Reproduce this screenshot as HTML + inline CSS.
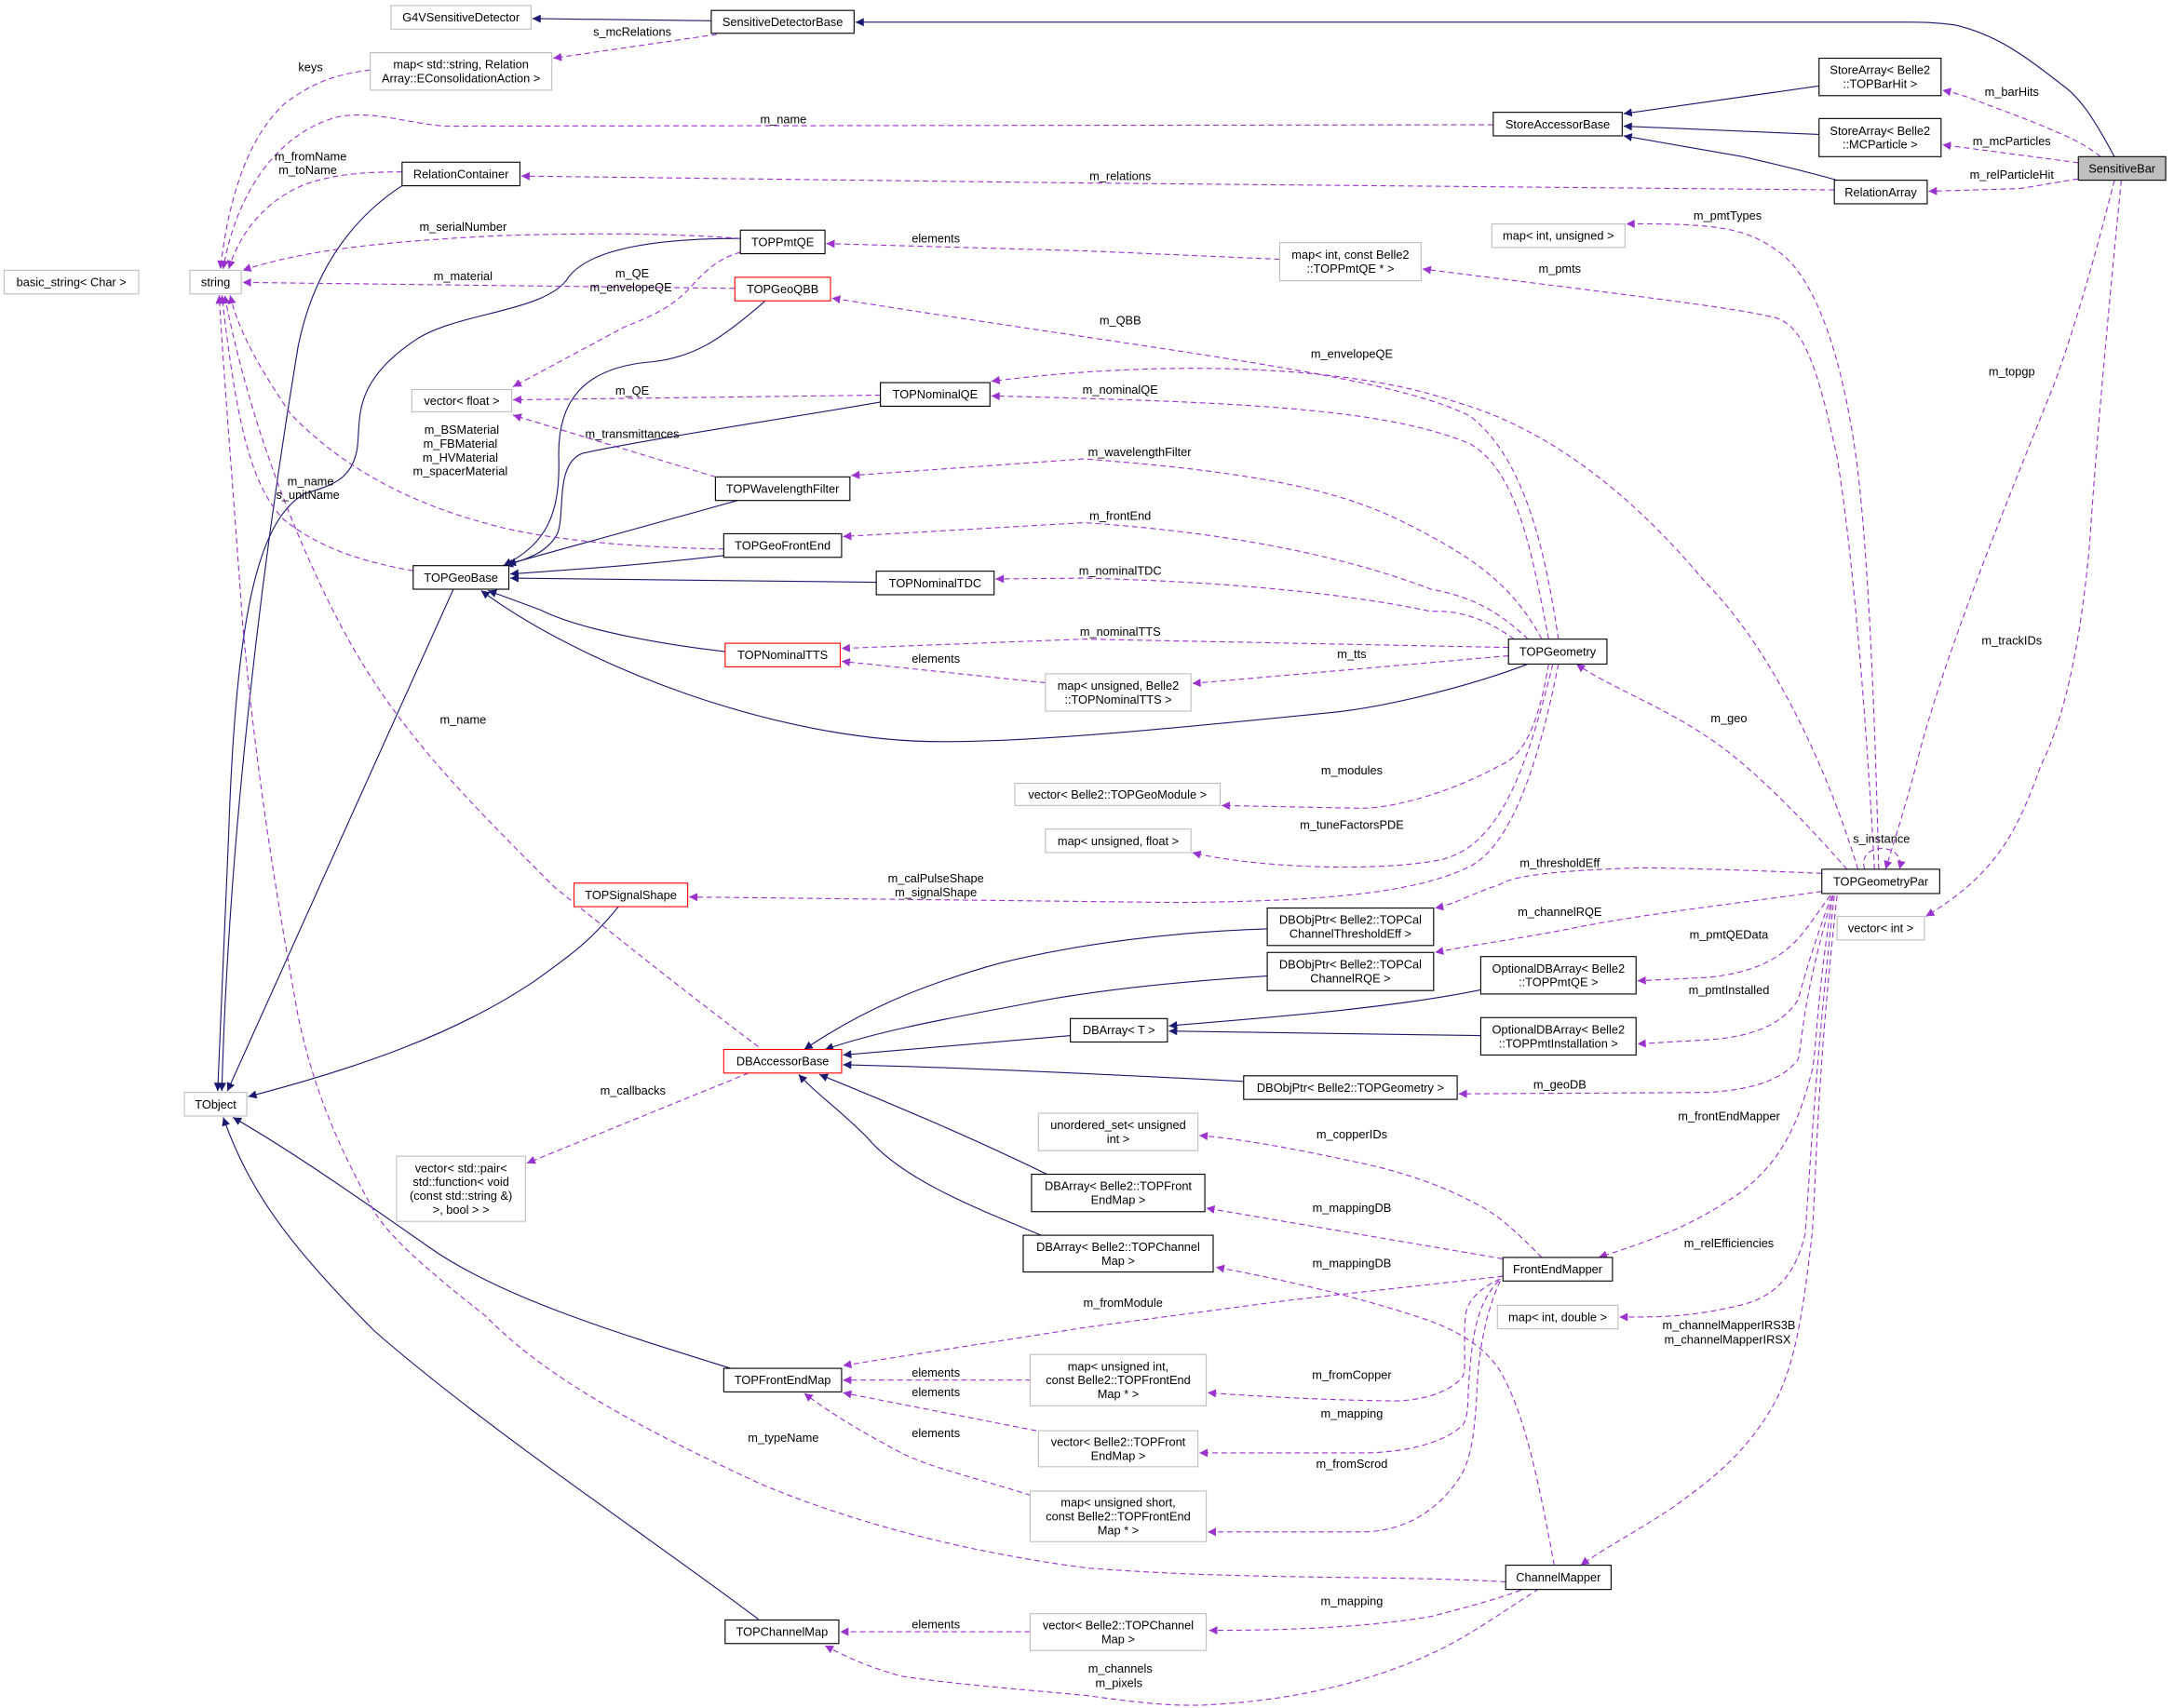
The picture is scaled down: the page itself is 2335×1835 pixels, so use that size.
<!DOCTYPE html>
<html><head><meta charset="utf-8"><style>
html,body{margin:0;padding:0;background:#fff;}
svg{display:block;}
text{font-family:"Liberation Sans",Arial,sans-serif;font-size:8.6px;fill:#000;}
.n{text-anchor:middle;}
.b{fill:#fff;stroke:#000;stroke-width:0.75;}
.g{fill:#fff;stroke:#bfbfbf;stroke-width:0.75;}
.r{fill:#fff;stroke:#ff0000;stroke-width:0.75;}
.s{fill:none;stroke:#191970;stroke-width:0.75;marker-end:url(#an);}
.d{fill:none;stroke:#9a32cd;stroke-width:0.75;stroke-dasharray:4,2.6;marker-end:url(#ap);}
</style></head><body>
<svg width="2335" height="1835" viewBox="0 0 1568 1232" preserveAspectRatio="none" xmlns="http://www.w3.org/2000/svg">
<defs>
<marker id="an" viewBox="0 0 10 10" refX="10" refY="5" markerWidth="8" markerHeight="6" markerUnits="userSpaceOnUse" orient="auto"><path d="M0,0 L10,5 L0,10 z" fill="#191970"/></marker>
<marker id="ap" viewBox="0 0 10 10" refX="10" refY="5" markerWidth="8" markerHeight="6" markerUnits="userSpaceOnUse" orient="auto"><path d="M0,0 L10,5 L0,10 z" fill="#9a32cd"/></marker>
</defs>

<!-- solid inheritance edges -->
<path class="s" d="M513,15 L384,13.4"/>
<path class="s" d="M1525,113 C1510,85 1500,70 1487,61 C1460,40 1440,25 1410,18 C1395,16 1385,16 1377,16 L617,16"/>
<path class="s" d="M1312,62 L1171,82"/>
<path class="s" d="M1312,97 L1171,91"/>
<path class="s" d="M1325,130 C1300,123 1270,116 1257,113 L1171,98"/>
<path class="s" d="M290,134 C250,160 225,200 215,250 C190,400 165,600 160,787"/>
<path class="s" d="M534,172 C470,172 425,180 410,200 C395,225 330,225 300,245 C255,275 260,300 258,320 C256,345 240,350 220,356 C185,375 170,450 165,600 L157,787"/>
<path class="s" d="M552,217 C520,245 500,258 470,261 C420,265 402,290 403,330 C404,370 395,392 363,408"/>
<path class="s" d="M635,290 C560,303 460,318 420,327 C400,335 408,370 402,385 C395,398 382,403 364,408"/>
<path class="s" d="M532,361 L366,407"/>
<path class="s" d="M522,400.7 C460,408 410,411 368,414"/>
<path class="s" d="M632,420 L368,417"/>
<path class="s" d="M523,470 C480,465 420,455 390,440 L352,426"/>
<path class="s" d="M1102,479 C1060,495 1000,510 960,514 C850,525 750,535 680,535 C560,535 420,480 347,426"/>
<path class="s" d="M327,425 L164,787"/>
<path class="s" d="M446,654 C425,680 410,690 385,708 C330,745 260,770 179,791"/>
<path class="s" d="M527,987 C440,960 360,935 310,900 C260,865 210,830 168,806"/>
<path class="s" d="M547,1168 C470,1110 350,1030 270,960 C210,900 180,860 161,806"/>
<path class="s" d="M914,670 C850,672 780,680 720,695 C660,712 620,730 580,757"/>
<path class="s" d="M914,704 C850,708 790,714 740,724 C670,737 630,745 595,757"/>
<path class="s" d="M772,747 L608,761"/>
<path class="s" d="M897,780 C820,776 700,770 608,768"/>
<path class="s" d="M1068,714 C1000,728 900,735 843,740"/>
<path class="s" d="M1068,747 L843,743.7"/>
<path class="s" d="M755,847 C700,820 640,795 591,775"/>
<path class="s" d="M751,891 C700,870 650,850 625,820 C605,800 590,790 576,775"/>

<!-- dashed usage edges -->
<path class="d" d="M517,24.8 L399,42"/>
<path class="d" d="M267,50.4 C240,54 225,60 205,75 C180,98 165,140 159,194"/>
<path class="d" d="M1077,90 L320,91 C290,88 270,80 245,84 C200,95 170,140 161,194"/>
<path class="d" d="M1323,137 L782,132 L376,127"/>
<path class="d" d="M290,124 C260,124 240,126 220,133 C190,145 172,170 165,194"/>
<path class="d" d="M534,172 C480,168 420,168 360,170 C280,174 220,180 175,195"/>
<path class="d" d="M530,208 L175,203.7"/>
<path class="d" d="M534,182 C520,186 512,192 500,205 C485,222 470,228 450,236 L370,279"/>
<path class="d" d="M635,285 L370,288.4"/>
<path class="d" d="M516,344 L370,299.4"/>
<path class="d" d="M522,396 C460,395 400,390 360,380 C300,365 250,340 210,299 C190,270 172,240 166,213"/>
<path class="d" d="M298,411.7 C260,405 230,395 205,375 C180,350 170,300 160,213"/>
<path class="d" d="M547,755 C500,720 450,680 400,640 C330,570 280,520 240,440 C200,360 175,280 162,213"/>
<path class="d" d="M1086,1141 C1000,1136 900,1140 784,1131 C700,1120 620,1100 550,1071 C450,1025 390,990 350,949 C300,910 280,890 270,874 C240,820 225,780 215,733 C200,650 185,560 175,450 C168,350 162,280 158,213"/>
<path class="d" d="M540,774 L380,839"/>
<path class="d" d="M1355,627 C1352,500 1347,400 1340,340 C1330,260 1310,200 1282,181 C1260,165 1240,161 1173,161.5"/>
<path class="d" d="M1352,627 C1345,500 1335,390 1325,330 C1310,260 1300,235 1280,229 C1250,222 1200,216 1026,194"/>
<path class="d" d="M923,187 L784,181 L596,175.7"/>
<path class="d" d="M1124,461 C1115,400 1100,330 1060,300 C1000,270 850,255 600,215"/>
<path class="d" d="M1340,627 C1320,560 1280,470 1230,420 C1180,360 1120,310 1050,290 C980,265 850,258 715,275"/>
<path class="d" d="M1117,461 C1105,400 1095,340 1060,320 C1000,295 900,290 715,285.6"/>
<path class="d" d="M1112,461 C1090,420 1060,400 1007,374 C960,352 900,340 782,331 L614,343"/>
<path class="d" d="M1102,461 C1080,440 1060,430 1032,425 C980,405 900,385 782,377 L608,387"/>
<path class="d" d="M1092,461 C1070,445 1050,440 1032,441 C980,430 900,420 782,417 L718,417.6"/>
<path class="d" d="M1088,467 L782,461 L607,467.7"/>
<path class="d" d="M1088,473 L860,493"/>
<path class="d" d="M754,492.5 L607,477"/>
<path class="d" d="M1117,479 C1110,520 1100,545 1082,552 C1040,575 1000,583 982,583 L881,581"/>
<path class="d" d="M1120,479 C1100,560 1080,610 1040,620 C990,630 900,625 860,615"/>
<path class="d" d="M1124,479 C1110,550 1090,610 1060,625 C1020,645 950,650 850,651 L497,647"/>
<path class="d" d="M1332,627 C1300,590 1260,550 1232,532 C1200,510 1160,495 1137,479"/>
<path class="d" d="M1345,627 C1338,608 1375,606 1370,627"/>
<path class="d" d="M1525,130 C1510,190 1495,240 1482,276 C1440,380 1400,480 1382,552 C1372,590 1365,610 1360,627"/>
<path class="d" d="M1530,130 C1520,230 1512,320 1507,394 C1500,470 1488,520 1472,552 C1455,600 1440,630 1389,661"/>
<path class="d" d="M1515,113 C1505,105 1495,100 1482,94.6 C1460,85 1445,80 1432,75 C1420,70 1410,67 1401,65"/>
<path class="d" d="M1499,117.4 L1401,104.4"/>
<path class="d" d="M1499,129 C1480,132 1470,134 1457,136 L1391,138"/>
<path class="d" d="M1314,630 C1270,628 1210,626 1182,626 C1120,628 1090,632 1082,638 C1060,645 1050,652 1035,655"/>
<path class="d" d="M1314,643 C1250,652 1180,660 1132,670 C1090,678 1060,682 1035,687"/>
<path class="d" d="M1320,646 C1310,660 1303,670 1297,677 C1280,695 1260,702 1232,705 L1181,707.5"/>
<path class="d" d="M1321,646 C1305,690 1300,710 1297,721 C1285,740 1262,748 1232,750 L1181,753"/>
<path class="d" d="M1322,646 C1300,720 1300,750 1297,764 C1285,780 1262,786 1232,788 L1052,789"/>
<path class="d" d="M1322,646 C1310,720 1310,760 1307,772 C1295,820 1280,840 1257,859 C1220,885 1190,895 1153,907"/>
<path class="d" d="M1323,646 C1310,760 1305,850 1302,890 C1295,920 1280,935 1257,941 C1220,950 1200,950 1168,950"/>
<path class="d" d="M1325,646 C1310,780 1310,850 1307,890 C1300,950 1295,980 1282,1008 C1260,1050 1230,1070 1207,1087 C1180,1105 1160,1115 1140,1129"/>
<path class="d" d="M1112,907 C1095,890 1080,875 1062,867 C1040,855 1010,845 982,839 C940,830 900,822 865,819"/>
<path class="d" d="M1084,908 L870,871.4"/>
<path class="d" d="M1121,1129 C1110,1070 1100,1020 1082,989 C1070,970 1050,960 1032,953 C980,935 920,922 877,914"/>
<path class="d" d="M1084,920.6 L932,937.6 L784,957.3 L608,985"/>
<path class="d" d="M1082,922.6 C1065,930 1058,940 1057,949 C1055,970 1058,985 1055,993 C1045,1005 1025,1010 1007,1010.5 C960,1010 920,1008 871,1004.6"/>
<path class="d" d="M1081,923.8 C1065,940 1062,965 1060,989 C1058,1010 1060,1020 1055,1028 C1040,1042 1010,1048 982,1048 L865,1048"/>
<path class="d" d="M1082,924 C1070,950 1066,980 1065,1008 C1063,1040 1060,1055 1052,1067 C1035,1092 1010,1105 982,1105 L871,1105"/>
<path class="d" d="M743.5,995.5 L608,995.5"/>
<path class="d" d="M747.5,1032 L608,1004.6"/>
<path class="d" d="M743.5,1078.6 C700,1065 670,1058 650,1048 C620,1032 600,1020 580,1005"/>
<path class="d" d="M1097,1147 C1075,1155 1055,1160 1032,1166 C990,1173 940,1176 872,1176"/>
<path class="d" d="M743,1177 L606,1177"/>
<path class="d" d="M1110,1146 C1080,1165 1060,1180 1032,1193 C990,1212 940,1225 882,1229 C850,1232 820,1228 784,1223 C730,1218 690,1215 650,1209 C625,1202 610,1195 595,1187"/>

<!-- nodes -->
<rect class="g" x="282" y="4" width="101" height="17"/><text class="n" x="332.5" y="15.5">G4VSensitiveDetector</text>
<rect class="b" x="513" y="7.5" width="103" height="16.5"/><text class="n" x="564.5" y="18.8">SensitiveDetectorBase</text>
<rect class="g" x="267" y="38" width="131" height="27"/><text class="n" x="332.5" y="49.5">map&lt; std::string, Relation</text><text class="n" x="332.5" y="59.5">Array::EConsolidationAction &gt;</text>
<rect class="g" x="137" y="195" width="37" height="17"/><text class="n" x="155.5" y="206.5">string</text>
<rect class="g" x="3" y="195" width="97" height="17"/><text class="n" x="51.5" y="206.5">basic_string&lt; Char &gt;</text>
<rect class="b" x="290" y="117" width="85" height="17"/><text class="n" x="332.5" y="128.5">RelationContainer</text>
<rect class="b" x="534" y="166" width="61" height="17"/><text class="n" x="564.5" y="177.5">TOPPmtQE</text>
<rect class="r" x="530" y="200" width="69" height="17"/><text class="n" x="564.5" y="211.5">TOPGeoQBB</text>
<rect class="g" x="297" y="281" width="72" height="16"/><text class="n" x="333" y="292">vector&lt; float &gt;</text>
<rect class="b" x="635" y="276" width="79" height="17"/><text class="n" x="674.5" y="287.5">TOPNominalQE</text>
<rect class="b" x="516" y="344" width="97" height="17"/><text class="n" x="564.5" y="355.5">TOPWavelengthFilter</text>
<rect class="b" x="522" y="385" width="85" height="17"/><text class="n" x="564.5" y="396.5">TOPGeoFrontEnd</text>
<rect class="b" x="298" y="408" width="69" height="17"/><text class="n" x="332.5" y="419.5">TOPGeoBase</text>
<rect class="b" x="632" y="412" width="85" height="17"/><text class="n" x="674.5" y="423.5">TOPNominalTDC</text>
<rect class="r" x="523" y="464" width="83" height="17"/><text class="n" x="564.5" y="475.5">TOPNominalTTS</text>
<rect class="b" x="1312" y="42" width="88" height="27"/><text class="n" x="1356" y="53.5">StoreArray&lt; Belle2</text><text class="n" x="1356" y="63.5">::TOPBarHit &gt;</text>
<rect class="b" x="1077" y="81" width="93" height="17"/><text class="n" x="1123.5" y="92.5">StoreAccessorBase</text>
<rect class="b" x="1312" y="85.5" width="88" height="27.5"/><text class="n" x="1356" y="97.2">StoreArray&lt; Belle2</text><text class="n" x="1356" y="107.2">::MCParticle &gt;</text>
<rect x="1499" y="113" width="63" height="17" fill="#bfbfbf" stroke="#000" stroke-width="0.75"/><text class="n" x="1530.5" y="124.5">SensitiveBar</text>
<rect class="b" x="1323" y="130" width="67" height="17"/><text class="n" x="1356.5" y="141.5">RelationArray</text>
<rect class="g" x="1076" y="161.5" width="96" height="17"/><text class="n" x="1124" y="173">map&lt; int, unsigned &gt;</text>
<rect class="g" x="923" y="175" width="102" height="27.5"/><text class="n" x="974" y="186.7">map&lt; int, const Belle2</text><text class="n" x="974" y="196.7">::TOPPmtQE * &gt;</text>
<rect class="b" x="1088" y="461" width="71" height="18"/><text class="n" x="1123.5" y="473">TOPGeometry</text>
<rect class="g" x="754" y="486" width="105" height="27"/><text class="n" x="806.5" y="497.5">map&lt; unsigned, Belle2</text><text class="n" x="806.5" y="507.5">::TOPNominalTTS &gt;</text>
<rect class="g" x="732" y="565" width="148" height="16"/><text class="n" x="806" y="576">vector&lt; Belle2::TOPGeoModule &gt;</text>
<rect class="g" x="754" y="598" width="105" height="17"/><text class="n" x="806.5" y="609.5">map&lt; unsigned, float &gt;</text>
<rect class="r" x="414" y="637" width="82" height="17"/><text class="n" x="455" y="648.5">TOPSignalShape</text>
<rect class="r" x="522" y="757" width="85" height="17"/><text class="n" x="564.5" y="768.5">DBAccessorBase</text>
<rect class="g" x="133" y="788" width="45" height="17"/><text class="n" x="155.5" y="799.5">TObject</text>
<rect class="g" x="286" y="834" width="93" height="47"/><text class="n" x="332.5" y="845.5">vector&lt; std::pair&lt;</text><text class="n" x="332.5" y="855.5">std::function&lt; void</text><text class="n" x="332.5" y="865.5">(const std::string &amp;)</text><text class="n" x="332.5" y="875.5">&gt;, bool &gt; &gt;</text>
<rect class="b" x="522" y="987" width="85" height="17"/><text class="n" x="564.5" y="998.5">TOPFrontEndMap</text>
<rect class="b" x="523" y="1168.5" width="82" height="17"/><text class="n" x="564" y="1180">TOPChannelMap</text>
<rect class="g" x="743" y="977" width="127" height="37"/><text class="n" x="806.5" y="988.5">map&lt; unsigned int,</text><text class="n" x="806.5" y="998.5">const Belle2::TOPFrontEnd</text><text class="n" x="806.5" y="1008.5">Map * &gt;</text>
<rect class="g" x="749" y="1032" width="115" height="26"/><text class="n" x="806.5" y="1043">vector&lt; Belle2::TOPFront</text><text class="n" x="806.5" y="1053">EndMap &gt;</text>
<rect class="g" x="743" y="1075.5" width="127" height="36.5"/><text class="n" x="806.5" y="1086.8">map&lt; unsigned short,</text><text class="n" x="806.5" y="1096.8">const Belle2::TOPFrontEnd</text><text class="n" x="806.5" y="1106.8">Map * &gt;</text>
<rect class="g" x="743" y="1164" width="127" height="26.5"/><text class="n" x="806.5" y="1175.3">vector&lt; Belle2::TOPChannel</text><text class="n" x="806.5" y="1185.3">Map &gt;</text>
<rect class="g" x="749" y="803" width="115" height="27"/><text class="n" x="806.5" y="814.5">unordered_set&lt; unsigned</text><text class="n" x="806.5" y="824.5">int &gt;</text>
<rect class="b" x="744" y="847" width="125" height="27"/><text class="n" x="806.5" y="858.5">DBArray&lt; Belle2::TOPFront</text><text class="n" x="806.5" y="868.5">EndMap &gt;</text>
<rect class="b" x="738" y="891" width="137" height="26.5"/><text class="n" x="806.5" y="902.3">DBArray&lt; Belle2::TOPChannel</text><text class="n" x="806.5" y="912.3">Map &gt;</text>
<rect class="b" x="1314" y="627" width="85" height="17.5"/><text class="n" x="1356.5" y="638.8">TOPGeometryPar</text>
<rect class="g" x="1325" y="661" width="63" height="17"/><text class="n" x="1356.5" y="672.5">vector&lt; int &gt;</text>
<rect class="b" x="914" y="655" width="120" height="27"/><text class="n" x="974" y="666.5">DBObjPtr&lt; Belle2::TOPCal</text><text class="n" x="974" y="676.5">ChannelThresholdEff &gt;</text>
<rect class="b" x="914" y="687" width="120" height="27.5"/><text class="n" x="974" y="698.7">DBObjPtr&lt; Belle2::TOPCal</text><text class="n" x="974" y="708.7">ChannelRQE &gt;</text>
<rect class="b" x="1068" y="690" width="112" height="27"/><text class="n" x="1124" y="701.5">OptionalDBArray&lt; Belle2</text><text class="n" x="1124" y="711.5">::TOPPmtQE &gt;</text>
<rect class="b" x="772" y="734.7" width="70" height="16.9"/><text class="n" x="807" y="746">DBArray&lt; T &gt;</text>
<rect class="b" x="1068" y="734" width="112" height="27"/><text class="n" x="1124" y="745.5">OptionalDBArray&lt; Belle2</text><text class="n" x="1124" y="755.5">::TOPPmtInstallation &gt;</text>
<rect class="b" x="897" y="776" width="154" height="17"/><text class="n" x="974" y="787.5">DBObjPtr&lt; Belle2::TOPGeometry &gt;</text>
<rect class="b" x="1084" y="907" width="79" height="17"/><text class="n" x="1123.5" y="918.5">FrontEndMapper</text>
<rect class="g" x="1080" y="941.5" width="87" height="17"/><text class="n" x="1123.5" y="953">map&lt; int, double &gt;</text>
<rect class="b" x="1086" y="1129" width="76" height="17.5"/><text class="n" x="1124" y="1140.8">ChannelMapper</text>

<!-- edge labels -->
<text class="n" x="456" y="26">s_mcRelations</text>
<text class="n" x="224" y="51.5">keys</text>
<text class="n" x="565" y="89">m_name</text>
<text class="n" x="808" y="130">m_relations</text>
<text class="n" x="224" y="115.7">m_fromName</text>
<text class="n" x="222" y="125.5">m_toName</text>
<text class="n" x="334" y="166.5">m_serialNumber</text>
<text class="n" x="334" y="202">m_material</text>
<text class="n" x="456" y="200">m_QE</text>
<text class="n" x="455" y="210">m_envelopeQE</text>
<text class="n" x="456" y="284.7">m_QE</text>
<text class="n" x="456" y="316">m_transmittances</text>
<text class="n" x="333" y="313">m_BSMaterial</text>
<text class="n" x="332" y="323">m_FBMaterial</text>
<text class="n" x="332" y="333">m_HVMaterial</text>
<text class="n" x="332" y="342.6">m_spacerMaterial</text>
<text class="n" x="224" y="350">m_name</text>
<text class="n" x="222" y="360">s_unitName</text>
<text class="n" x="334" y="522">m_name</text>
<text class="n" x="565" y="1040">m_typeName</text>
<text class="n" x="456.5" y="789.7">m_callbacks</text>
<text class="n" x="1246" y="158.6">m_pmtTypes</text>
<text class="n" x="1125" y="196.8">m_pmts</text>
<text class="n" x="675" y="174.8">elements</text>
<text class="n" x="808" y="234">m_QBB</text>
<text class="n" x="975" y="258">m_envelopeQE</text>
<text class="n" x="808" y="284">m_nominalQE</text>
<text class="n" x="822" y="329">m_wavelengthFilter</text>
<text class="n" x="808" y="375">m_frontEnd</text>
<text class="n" x="808" y="414.5">m_nominalTDC</text>
<text class="n" x="808" y="458.7">m_nominalTTS</text>
<text class="n" x="975" y="474.6">m_tts</text>
<text class="n" x="675" y="478">elements</text>
<text class="n" x="975" y="558.5">m_modules</text>
<text class="n" x="975" y="598">m_tuneFactorsPDE</text>
<text class="n" x="675" y="636.4">m_calPulseShape</text>
<text class="n" x="675" y="646.7">m_signalShape</text>
<text class="n" x="1247" y="521">m_geo</text>
<text class="n" x="1357" y="607.8">s_instance</text>
<text class="n" x="1451" y="271">m_topgp</text>
<text class="n" x="1451" y="465">m_trackIDs</text>
<text class="n" x="1451" y="69">m_barHits</text>
<text class="n" x="1451" y="104.7">m_mcParticles</text>
<text class="n" x="1451" y="129">m_relParticleHit</text>
<text class="n" x="1125" y="625.4">m_thresholdEff</text>
<text class="n" x="1125" y="660.8">m_channelRQE</text>
<text class="n" x="1247" y="677">m_pmtQEData</text>
<text class="n" x="1247" y="717">m_pmtInstalled</text>
<text class="n" x="1125" y="785.3">m_geoDB</text>
<text class="n" x="1247" y="808">m_frontEndMapper</text>
<text class="n" x="1247" y="899.6">m_relEfficiencies</text>
<text class="n" x="1247" y="958.7">m_channelMapperIRS3B</text>
<text class="n" x="1246" y="969">m_channelMapperIRSX</text>
<text class="n" x="975" y="821">m_copperIDs</text>
<text class="n" x="975" y="874">m_mappingDB</text>
<text class="n" x="975" y="914">m_mappingDB</text>
<text class="n" x="810" y="942.5">m_fromModule</text>
<text class="n" x="975" y="994.6">m_fromCopper</text>
<text class="n" x="975" y="1022.5">m_mapping</text>
<text class="n" x="975" y="1058.8">m_fromScrod</text>
<text class="n" x="675" y="993">elements</text>
<text class="n" x="675" y="1007">elements</text>
<text class="n" x="675" y="1036.7">elements</text>
<text class="n" x="975" y="1157.7">m_mapping</text>
<text class="n" x="675" y="1174.6">elements</text>
<text class="n" x="808" y="1206.5">m_channels</text>
<text class="n" x="807" y="1216.8">m_pixels</text>
</svg>
</body></html>
